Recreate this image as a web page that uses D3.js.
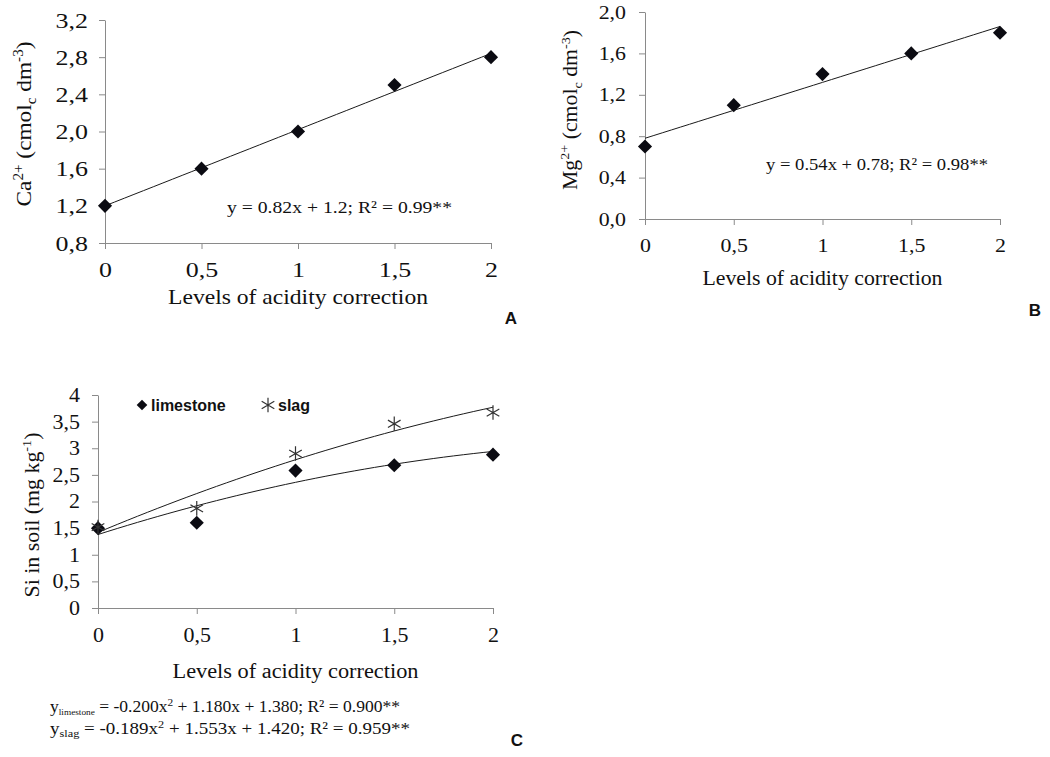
<!DOCTYPE html>
<html>
<head>
<meta charset="utf-8">
<script src="https://cdn.jsdelivr.net/npm/d3@7"></script>
<style>
body { margin: 0; background: #fff; }
text { fill: #111; }
</style>
</head>
<body>
<div id="chart"></div>
<script>
// data
var xLevels = [0, 0.5, 1, 1.5, 2];
var caValues = [1.2, 1.6, 2.0, 2.5, 2.8];
var mgValues = [0.7, 1.1, 1.4, 1.6, 1.8];
var siLimestone = [1.5, 1.6, 2.58, 2.68, 2.88];
var siSlag = [1.52, 1.87, 2.9, 3.46, 3.67];

var caTicks = [0.8, 1.2, 1.6, 2.0, 2.4, 2.8, 3.2];
var mgTicks = [0, 0.4, 0.8, 1.2, 1.6, 2.0];
var siTicks = [0, 0.5, 1, 1.5, 2, 2.5, 3, 3.5, 4];

// trend lines as printed on the figure: a*x^2 + b*x + c
var caFit = [0, 0.82, 1.2];
var mgFit = [0, 0.54, 0.78];
var limestoneFit = [-0.200, 1.180, 1.380];
var slagFit = [-0.189, 1.553, 1.420];

var axisColor = "#8a8a8a";
var markColor = "#0b0b12";
var serif = '"Liberation Serif", "Times New Roman", "DejaVu Serif", serif';
var sans = '"Liberation Sans", Arial, sans-serif';

var svg = d3.select("#chart").append("svg")
    .attr("width", 1050)
    .attr("height", 757)
    .attr("font-family", serif)
    .style("background", "#fff");

function comma(fmt) {
    return function(d) { return fmt(d).replace(".", ","); };
}

function stretch(sel, k) {
    sel.each(function() {
        var w = this.getComputedTextLength();
        d3.select(this).attr("textLength", w * k).attr("lengthAdjust", "spacingAndGlyphs");
    });
}

function fitLength(sel, len) {
    sel.attr("textLength", len).attr("lengthAdjust", "spacingAndGlyphs");
}

function styleAxis(g, fontSize, k) {
    g.attr("font-family", serif).attr("font-size", fontSize);
    g.select(".domain").attr("stroke", axisColor);
    g.selectAll(".tick line").attr("stroke", axisColor);
    g.selectAll(".tick text")
        .style("font-family", serif)
        .style("font-size", fontSize + "px")
        .attr("fill", "#111");
    stretch(g.selectAll(".tick text"), k);
}

function fitPath(coef) {
    return d3.range(0, 2.0001, 0.05).map(function(x) {
        return [x, coef[0] * x * x + coef[1] * x + coef[2]];
    });
}

function drawPanel(p) {
    var x = d3.scaleLinear().domain([0, 2]).range(p.xRange);
    var y = d3.scaleLinear().domain(p.yDomain).range(p.yRange);
    var g = svg.append("g");

    var xAxis = g.append("g")
        .attr("transform", `translate(0, ${p.yRange[0]})`)
        .call(d3.axisBottom(x).tickValues(xLevels).tickFormat(comma(d3.format("")))
            .tickSize(6).tickSizeOuter(0).tickPadding(p.xPad));
    styleAxis(xAxis, p.tickFont, p.tickStretch);

    var yAxis = g.append("g")
        .attr("transform", `translate(${p.xRange[0]}, 0)`)
        .call(d3.axisLeft(y).tickValues(p.yTicks).tickFormat(comma(p.yFormat))
            .tickSize(6).tickSizeOuter(0).tickPadding(p.yPad));
    styleAxis(yAxis, p.tickFont, p.tickStretch);

    var line = d3.line().x(d => x(d[0])).y(d => y(d[1]));
    p.fits.forEach(function(coef) {
        g.append("path")
            .attr("d", line(fitPath(coef)))
            .attr("fill", "none")
            .attr("stroke", "#1a1a1a")
            .attr("stroke-width", 1);
    });

    p.series.forEach(function(s) {
        g.selectAll(null)
            .data(s.values)
            .enter()
            .append("path")
            .attr("d", s.symbol)
            .attr("transform", (d, i) => `translate(${x(xLevels[i])}, ${y(d)})${s.rotate ? " rotate(45)" : ""}`)
            .attr("fill", s.fill)
            .attr("stroke", s.stroke)
            .attr("stroke-width", s.strokeWidth);
    });

    // x title
    var xt = g.append("text")
        .attr("x", x(1))
        .attr("y", p.xTitleY)
        .attr("text-anchor", "middle")
        .style("font-family", serif)
        .style("font-size", p.titleFont + "px")
        .text("Levels of acidity correction");
    fitLength(xt, p.xTitleLen);

    // y title
    var yt = g.append("text")
        .attr("transform", `translate(${p.yTitleX}, ${p.yTitleY}) rotate(-90)`)
        .attr("text-anchor", "middle")
        .style("font-family", serif)
        .style("font-size", p.titleFont + "px");
    p.yTitle.forEach(function(part) {
        var t = yt.append("tspan").text(part[0]);
        if (part[1] === "sup") t.style("font-size", (p.titleFont * 0.65) + "px").attr("dy", -p.titleFont * 0.38);
        if (part[1] === "sub") t.style("font-size", (p.titleFont * 0.65) + "px").attr("dy", p.titleFont * 0.25);
        if (part[2]) t.attr("dy", part[2]);
    });
    fitLength(yt, p.yTitleLen);

    // panel letter
    g.append("text")
        .attr("x", p.letter[1])
        .attr("y", p.letter[2])
        .attr("text-anchor", "middle")
        .style("font-family", sans)
        .style("font-weight", "bold")
        .style("font-size", "17px")
        .text(p.letter[0]);

    return { x: x, y: y, g: g };
}

var diamond = d3.symbol().type(d3.symbolSquare).size(100)();
var star = d3.symbol().type(d3.symbolAsterisk).size(150)();

// Panel A
var pa = drawPanel({
    xRange: [105, 491], yRange: [243, 20], yDomain: [0.8, 3.2],
    yTicks: caTicks, yFormat: d3.format(".1f"),
    tickFont: 22, tickStretch: 1.18, xPad: 12, yPad: 11,
    fits: [caFit],
    series: [{ values: caValues, symbol: diamond, rotate: true, fill: markColor, stroke: "none" }],
    titleFont: 21, xTitleY: 304, xTitleLen: 260,
    yTitleX: 31, yTitleY: 124, yTitleLen: 165,
    yTitle: [["Ca"], ["2+", "sup"], [" (cmol", null, 8], ["c", "sub"], [" dm", null, -5], ["-3", "sup"], [")", null, 8]],
    letter: ["A", 511, 324]
});
pa.g.append("text")
    .attr("x", 227).attr("y", 213)
    .style("font-family", serif).style("font-size", "17px")
    .text("y = 0.82x + 1.2; R² = 0.99**")
    .call(fitLength, 225);

// Panel B
var pb = drawPanel({
    xRange: [645, 1000], yRange: [219, 12], yDomain: [0, 2],
    yTicks: mgTicks, yFormat: d3.format(".1f"),
    tickFont: 19, tickStretch: 1.15, xPad: 14, yPad: 13,
    fits: [mgFit],
    series: [{ values: mgValues, symbol: diamond, rotate: true, fill: markColor, stroke: "none" }],
    titleFont: 20, xTitleY: 285, xTitleLen: 240,
    yTitleX: 577, yTitleY: 110, yTitleLen: 160,
    yTitle: [["Mg"], ["2+", "sup"], [" (cmol", null, 8], ["c", "sub"], [" dm", null, -5], ["-3", "sup"], [")", null, 8]],
    letter: ["B", 1035, 316]
});
pb.g.append("text")
    .attr("x", 766).attr("y", 170)
    .style("font-family", serif).style("font-size", "17px")
    .text("y = 0.54x + 0.78; R² = 0.98**")
    .call(fitLength, 222);

// Panel C
var pc = drawPanel({
    xRange: [98, 493], yRange: [608, 395], yDomain: [0, 4],
    yTicks: siTicks, yFormat: d3.format(""),
    tickFont: 20, tickStretch: 1.1, xPad: 14, yPad: 12,
    fits: [limestoneFit, slagFit],
    series: [
        { values: siLimestone, symbol: diamond, rotate: true, fill: markColor, stroke: "none" },
        { values: siSlag, symbol: star, rotate: false, fill: "none", stroke: "#333", strokeWidth: 1.2 }
    ],
    titleFont: 20, xTitleY: 678, xTitleLen: 246,
    yTitleX: 39, yTitleY: 515, yTitleLen: 165,
    yTitle: [["Si in soil (mg kg"], ["-1", "sup"], [")", null, 8]],
    letter: ["C", 517, 746]
});

// legend of panel C
var legend = pc.g.append("g");
legend.append("path").attr("d", diamond)
    .attr("transform", "translate(142, 405) rotate(45) scale(0.75)")
    .attr("fill", markColor);
legend.append("text").attr("x", 151).attr("y", 411)
    .style("font-family", sans)
    .style("font-weight", "bold").style("font-size", "16px")
    .text("limestone");
legend.append("path").attr("d", star)
    .attr("transform", "translate(268, 405)")
    .attr("fill", "none").attr("stroke", "#333").attr("stroke-width", 1.2);
legend.append("text").attr("x", 278).attr("y", 411)
    .style("font-family", sans)
    .style("font-weight", "bold").style("font-size", "16px")
    .text("slag");

// equations under panel C
var eq1 = pc.g.append("text").attr("x", 50).attr("y", 712)
    .style("font-family", serif).style("font-size", "17px");
eq1.append("tspan").text("y");
eq1.append("tspan").text("limestone").style("font-size", "9px").attr("dy", 3);
eq1.append("tspan").text(" = -0.200x").attr("dy", -3);
eq1.append("tspan").text("2").style("font-size", "11px").attr("dy", -6);
eq1.append("tspan").text(" + 1.180x + 1.380; R² = 0.900**").attr("dy", 6);
fitLength(eq1, 350);

var eq2 = pc.g.append("text").attr("x", 50).attr("y", 734)
    .style("font-family", serif).style("font-size", "17px");
eq2.append("tspan").text("y");
eq2.append("tspan").text("slag").style("font-size", "11px").attr("dy", 3);
eq2.append("tspan").text(" = -0.189x").attr("dy", -3);
eq2.append("tspan").text("2").style("font-size", "11px").attr("dy", -6);
eq2.append("tspan").text(" + 1.553x + 1.420; R² = 0.959**").attr("dy", 6);
fitLength(eq2, 360);
</script>
</body>
</html>
